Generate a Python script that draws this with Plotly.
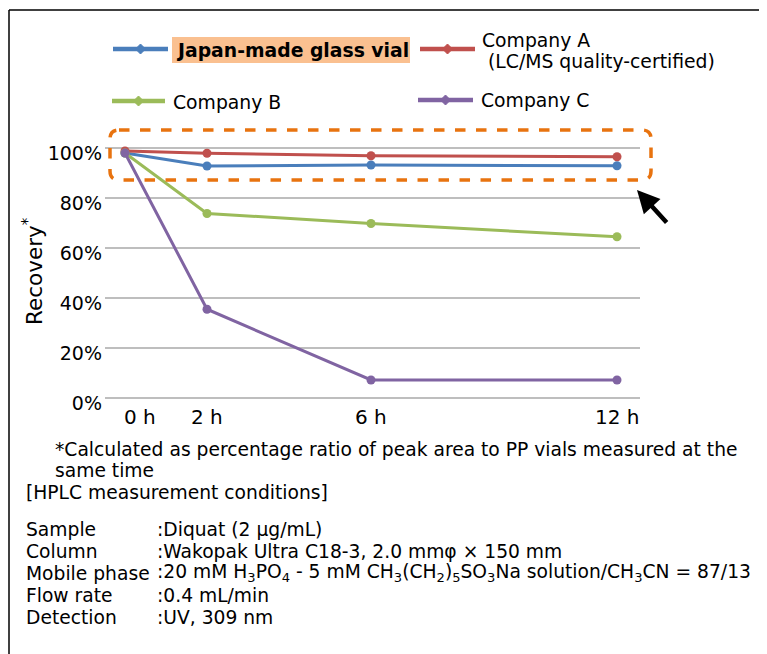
import plotly.graph_objects as go

# ---------------- data ----------------
hours = [0, 2, 6, 12]
hour_labels = ["0 h", "2 h", "6 h", "12 h"]
japan_vial = [98.0, 92.8, 93.2, 92.9]
company_a = [98.8, 97.9, 96.9, 96.5]
company_b = [98.0, 73.8, 69.8, 64.5]
company_c = [98.0, 35.5, 7.2, 7.2]
y_ticks = [0, 20, 40, 60, 80, 100]
y_tick_labels = ["0%", "20%", "40%", "60%", "80%", "100%"]

series_names = ["Japan-made glass vial", "Company A", "Company B", "Company C"]
series_values = [japan_vial, company_a, company_b, company_c]
series_colors = ["#4A7EBB", "#C0504D", "#9BBB59", "#8064A2"]

footnote_lines = ["*Calculated as percentage ratio of peak area to PP vials measured at the", "same time"]
cond_title = "[HPLC measurement conditions]"
cond_labels = ["Sample", "Column", "Mobile phase", "Flow rate", "Detection"]
cond_values = [
    ":Diquat (2 µg/mL)",
    ":Wakopak Ultra C18-3, 2.0 mmφ × 150 mm",
    ":20 mM H<sub>3</sub>PO<sub>4</sub> - 5 mM CH<sub>3</sub>(CH<sub>2</sub>)<sub>5</sub>SO<sub>3</sub>Na solution/CH<sub>3</sub>CN = 87/13",
    ":0.4 mL/min",
    ":UV, 309 nm",
]

# ---------------- layout geometry ----------------
# page body has an 8px margin, so the figure is 8px smaller and all page
# coordinates below are shifted by OFF.
OFF = 8
W, H = 767 - OFF, 654 - OFF
L, R, T, B = 105 - OFF, 767 - 640, 146 - OFF, 654 - 400
PW = W - L - R
PH = H - T - B


def px(x):
    return (x - OFF - L) / PW


def py(y):
    return (H - B - (y - OFF)) / PH


FONT = "DejaVu Sans"
TXT = 19
NOTE = 18.7

fig = go.Figure()
for name, vals, col in zip(series_names, series_values, series_colors):
    fig.add_trace(go.Scatter(
        x=hours, y=vals, mode="lines+markers", name=name,
        line=dict(color=col, width=3), marker=dict(color=col, size=9),
        showlegend=False,
    ))

shapes = []
annotations = []

# frame (left and top)
shapes.append(dict(type="line", xref="paper", yref="paper", x0=px(9), x1=px(9), y0=py(10), y1=py(670),
                   line=dict(color="#000000", width=1.5)))
shapes.append(dict(type="line", xref="paper", yref="paper", x0=px(9), x1=px(780), y0=py(10), y1=py(10),
                   line=dict(color="#000000", width=1.5)))

# legend keys
legend_items = [
    (0, 113, 168, 49),
    (1, 420, 475, 49),
    (2, 112, 165, 101),
    (3, 418, 473, 100),
]
for idx, x0, x1, yy in legend_items:
    col = series_colors[idx]
    shapes.append(dict(type="line", xref="paper", yref="paper", x0=px(x0), x1=px(x1), y0=py(yy), y1=py(yy),
                       line=dict(color=col, width=4.5)))
    cx = (x0 + x1) / 2
    shapes.append(dict(type="path", xref="paper", yref="paper",
                       path=f"M {px(cx-5)},{py(yy)} L {px(cx)},{py(yy-5)} L {px(cx+5)},{py(yy)} L {px(cx)},{py(yy+5)} Z",
                       fillcolor=col, line=dict(color=col, width=1)))

# highlight behind "Japan-made glass vial"
shapes.append(dict(type="rect", xref="paper", yref="paper", x0=px(172), x1=px(410), y0=py(63), y1=py(37),
                   fillcolor="#FAC090", line=dict(width=0), layer="below"))


def text(x, y, s, size=TXT, xanchor="left", **kw):
    annotations.append(dict(xref="paper", yref="paper", x=px(x), y=py(y), xanchor=xanchor, yanchor="middle",
                            text=s, showarrow=False, font=dict(family=FONT, size=size, color="#000000"), **kw))


text(174, 50, "<b>" + series_names[0] + "</b>", size=18.8)
text(480, 40, series_names[1], size=18.8)
text(486, 62, "(LC/MS quality-certified)", size=18.8)
text(171, 102, series_names[2], size=18.8)
text(479, 100, series_names[3], size=18.8)

# dashed rounded box
bx0, bx1, by0, by1, r = 110, 651, 130, 180, 9
path = (f"M {px(bx0+r)},{py(by0)} L {px(bx1-r)},{py(by0)} Q {px(bx1)},{py(by0)} {px(bx1)},{py(by0+r)} "
        f"L {px(bx1)},{py(by1-r)} Q {px(bx1)},{py(by1)} {px(bx1-r)},{py(by1)} "
        f"L {px(bx0+r)},{py(by1)} Q {px(bx0)},{py(by1)} {px(bx0)},{py(by1-r)} "
        f"L {px(bx0)},{py(by0+r)} Q {px(bx0)},{py(by0)} {px(bx0+r)},{py(by0)} Z")
shapes.append(dict(type="path", xref="paper", yref="paper", path=path,
                   line=dict(color="#E8730F", width=3.5, dash="dash")))

# arrow
annotations.append(dict(xref="paper", yref="paper", x=px(637), y=py(190), ax=31, ay=34,
                        text="", showarrow=True, arrowhead=2, arrowsize=1, arrowwidth=4.5, arrowcolor="#000000"))

# x tick labels (positioned by data hours)
for h, lab in zip(hours, hour_labels):
    annotations.append(dict(xref="x", yref="paper", x=h, y=py(417), xshift=15 if h == 0 else 0,
                            xanchor="center", yanchor="middle", text=lab, showarrow=False,
                            font=dict(family=FONT, size=20, color="#000000")))

# y title
annotations.append(dict(xref="paper", yref="paper", x=px(33), y=py(271), textangle=-90,
                        xanchor="center", yanchor="middle", text="Recovery<sup>*</sup>", showarrow=False,
                        font=dict(family=FONT, size=21.5, color="#000000")))

# footnote
text(53, 449, footnote_lines[0], size=NOTE)
text(53, 470, footnote_lines[1], size=NOTE)

# conditions
text(24, 492, cond_title, size=NOTE)
for i, (lab, val) in enumerate(zip(cond_labels, cond_values)):
    yy = 529 + i * 22
    text(24, yy, lab, size=NOTE)
    text(155, yy, val, size=NOTE)

fig.update_layout(
    width=W, height=H,
    margin=dict(l=L, r=R, t=T, b=B, pad=0),
    paper_bgcolor="#FFFFFF", plot_bgcolor="#FFFFFF",
    showlegend=False,
    shapes=shapes, annotations=annotations,
    xaxis=dict(range=[-20 / 41, 515 / 41], showgrid=False, zeroline=False, showticklabels=False,
               showline=False, ticks=""),
    yaxis=dict(range=[-0.8, 100.8], tickvals=y_ticks, ticktext=y_tick_labels, showgrid=True,
               gridcolor="#BEBEBE", gridwidth=1.5, zeroline=False, showline=False, ticks="",
               ticklabelstandoff=2, ticklabelshift=5,
               tickfont=dict(family=FONT, size=19, color="#000000")),
)

fig.write_html("out.html")
